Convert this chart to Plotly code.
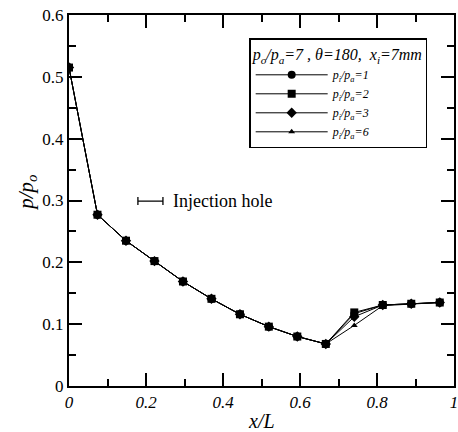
import plotly.graph_objects as go

x_over_L = [0, 0.074, 0.148, 0.222, 0.296, 0.370, 0.444, 0.519, 0.593, 0.667, 0.741, 0.815, 0.889, 0.963]
p_ratio_1 = [0.515, 0.277, 0.235, 0.202, 0.169, 0.141, 0.116, 0.096, 0.080, 0.068, 0.117, 0.131, 0.133, 0.135]
p_ratio_2 = [0.515, 0.277, 0.235, 0.202, 0.169, 0.141, 0.116, 0.096, 0.080, 0.068, 0.119, 0.131, 0.133, 0.135]
p_ratio_3 = [0.515, 0.277, 0.235, 0.202, 0.169, 0.141, 0.116, 0.096, 0.080, 0.068, 0.112, 0.131, 0.133, 0.135]
p_ratio_6 = [0.515, 0.277, 0.235, 0.202, 0.169, 0.141, 0.116, 0.096, 0.080, 0.068, 0.098, 0.130, 0.133, 0.135]
series_names = ["p<sub>i</sub>/p<sub>a</sub>=1", "p<sub>i</sub>/p<sub>a</sub>=2",
                "p<sub>i</sub>/p<sub>a</sub>=3", "p<sub>i</sub>/p<sub>a</sub>=6"]
injection_hole_x = [0.179, 0.244]
injection_hole_y = 0.299

FONT = "Liberation Serif"
fig = go.Figure()
symbols = ["circle", "square", "diamond", "triangle-up"]
sizes = [8, 8, 8, 6]
for ys, name, sym, sz in zip([p_ratio_1, p_ratio_2, p_ratio_3, p_ratio_6], series_names, symbols, sizes):
    fig.add_trace(go.Scatter(
        x=x_over_L, y=ys, mode="lines+markers", name=name,
        line=dict(color="black", width=1),
        marker=dict(symbol=sym, size=sz, color="black"),
    ))

# injection hole bracket
cx = (injection_hole_x[0] + injection_hole_x[1]) / 2
half = (injection_hole_x[1] - injection_hole_x[0]) / 2
fig.add_trace(go.Scatter(
    x=[cx], y=[injection_hole_y], mode="markers", showlegend=False,
    marker=dict(size=0.1, color="black"),
    error_x=dict(type="constant", value=half, color="black", thickness=1.3, width=4),
    hoverinfo="skip",
))
fig.add_annotation(x=injection_hole_x[1] + 0.022, y=injection_hole_y, text="Injection hole",
                   showarrow=False, xanchor="left", yanchor="middle",
                   font=dict(family=FONT, size=18, color="black"))

# axis titles
fig.add_annotation(x=0.5, y=-0.095, xref="paper", yref="paper", text="<i>x/L</i>",
                   showarrow=False, xanchor="center", yanchor="middle",
                   font=dict(family=FONT, size=20, color="black"))
fig.add_annotation(x=-0.11, y=0.52, xref="paper", yref="paper", text="<i>p/p<sub>o</sub></i>",
                   showarrow=False, xanchor="center", yanchor="middle", textangle=-90,
                   font=dict(family=FONT, size=21, color="black"))

axis_common = dict(
    showline=True, linecolor="black", linewidth=2, mirror="allticks",
    ticks="inside", ticklen=13, tickwidth=1.5, tickcolor="black",
    showgrid=False, zeroline=False, automargin=False, ticklabeloverflow="allow",
)
fig.update_xaxes(
    range=[0, 1], tickvals=[0, 0.2, 0.4, 0.6, 0.8, 1],
    ticktext=["0", "0.2", "0.4", "0.6", "0.8", "1"],
    minor=dict(ticks="inside", ticklen=7, tickcolor="black", dtick=0.1, tick0=0, showgrid=False),
    tickfont=dict(family=FONT, size=17, color="black", style="italic"),
    **axis_common,
)
fig.update_yaxes(
    range=[0, 0.6], tickvals=[0, 0.1, 0.2, 0.3, 0.4, 0.5, 0.6],
    ticktext=["0", "0.1", "0.2", "0.3", "0.4", "0.5", "0.6"],
    minor=dict(ticks="inside", ticklen=7, tickcolor="black", dtick=0.05, tick0=0, showgrid=False),
    tickfont=dict(family=FONT, size=17, color="black"),
    **axis_common,
)
fig.update_layout(
    width=458, height=432,
    margin=dict(l=69, r=4, t=15, b=46),
    paper_bgcolor="white", plot_bgcolor="white",
    font=dict(family=FONT, color="black"),
    showlegend=True,
    legend=dict(
        x=0.468, y=0.938, xanchor="left", yanchor="top",
        bordercolor="black", borderwidth=1.5, bgcolor="white",
        title=dict(text="<i>p<sub>o</sub>/p<sub>a</sub>=7 , </i>θ=180,  <i>x<sub>i</sub>=7mm</i>",
                   font=dict(family=FONT, size=16, color="black")),
        font=dict(family=FONT, size=12, color="black", style="italic"),
        itemwidth=72, tracegroupgap=0,
    ),
)
fig.write_html("out.html", config={"displayModeBar": False},
               post_script="document.body.style.margin='0';document.body.style.overflow='hidden';")
